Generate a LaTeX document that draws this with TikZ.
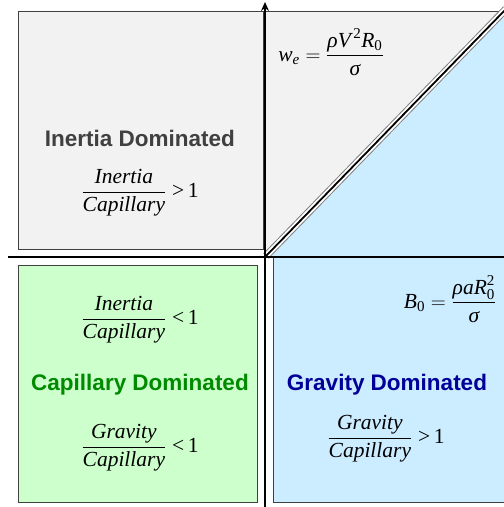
\documentclass[tikz,border=0pt]{standalone}
\usepackage{amsmath}
\usepackage{fontspec}
\setmainfont{Liberation Serif}
\newfontfamily\lsans{Liberation Sans}
\usetikzlibrary{arrows.meta}
\definecolor{boxgray}{HTML}{F2F2F2}
\definecolor{boxgreen}{HTML}{CCFFCC}
\definecolor{boxblue}{HTML}{CCECFF}
\definecolor{edgegray}{HTML}{404040}
\definecolor{titlegray}{HTML}{404040}
\definecolor{titlegreen}{HTML}{008A00}
\definecolor{titleblue}{HTML}{000099}
\newcommand\fr[2]{\dfrac{\textit{#1}}{\textit{#2}}}
\newcommand\ti[1]{\textit{#1}}
\newcommand\tu[1]{\text{#1}}
\tikzset{
  region/.style={draw=edgegray, line width=0.9pt},
  axisline/.style={draw=black, line width=1.6pt},
  title/.style={font=\lsans\bfseries\fontsize{22.5}{26}\selectfont, inner sep=0pt, anchor=base},
  formula/.style={font=\fontsize{21.5}{25}\selectfont, inner sep=0pt},
}
\begin{document}
\begin{tikzpicture}[x=1pt, y=-1pt]
\useasboundingbox (0,0) rectangle (504,507);
% regions
\fill[boxblue] (265,257) -- (504,257) -- (504,10) -- cycle;
\fill[boxgray] (265,11) -- (504,11) -- (265,257) -- cycle;
\draw[region] (265,11) -- (504,11);
\draw[region, fill=boxgray] (18,11) rectangle (263,249);
\draw[region, fill=boxgreen] (18,265) rectangle (257,502);
\draw[region, fill=boxblue] (273,257) rectangle (520,502);
% diagonal double line
\coordinate (d1) at (266,256);
\coordinate (d2) at (506,9);
\draw[gray, line width=7.5pt] (d1) -- (d2);
\draw[white, line width=5.5pt] (d1) -- (d2);
\draw[black, line width=1.8pt] (d1) -- (d2);
% axes
\coordinate (vb) at (265,507);
\coordinate (vt) at (265,2);
\coordinate (hl) at (8,257);
\coordinate (hr) at (504,257);
\draw[axisline] (hl) -- (hr);
\draw[axisline, -{Stealth[length=9pt, width=8pt, inset=3pt]}] (vb) -- (vt);
% texts
\node[title, text=titlegray] (tin) at (140,146) {Inertia Dominated};
\node[formula] (fin) at (140,193) {$\fr{Inertia}{Capillary}\;\text{>\,1}$};
\node[formula] (we) at (331,52) {$\ti{w}_{\ti{e}}=\dfrac{\ti{ρV}^{\,\tu{2}}\ti{R}_{\tu{0}}}{\ti{σ}}$};
\node[formula] (fic) at (140,320) {$\fr{Inertia}{Capillary}\;\text{<\,1}$};
\node[title, text=titlegreen] (tcap) at (140,390) {Capillary Dominated};
\node[formula] (fgc) at (140,448) {$\fr{Gravity}{Capillary}\;\text{<\,1}$};
\node[formula] (bo) at (450,299) {$\ti{B}_{\tu{0}}=\dfrac{\ti{ρaR}_{\tu{0}}^{\tu{2}}}{\ti{σ}}$};
\node[title, text=titleblue] (tgr) at (387,390) {Gravity Dominated};
\node[formula] (fgg) at (386,439) {$\fr{Gravity}{Capillary}\;\text{>\,1}$};
\end{tikzpicture}
\end{document}
